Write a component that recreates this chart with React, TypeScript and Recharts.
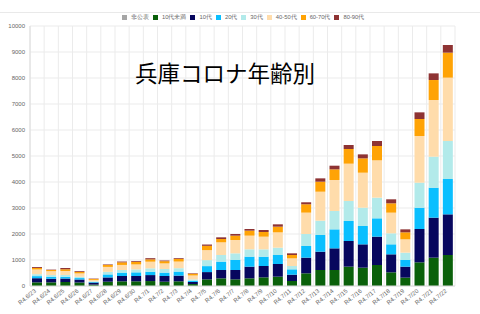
import React from "react";
import { BarChart, Bar, XAxis, YAxis, CartesianGrid } from "recharts";

// 発表日
const dates = [
  "R4.6/23", "R4.6/24", "R4.6/25", "R4.6/26", "R4.6/27", "R4.6/28", "R4.6/29", "R4.6/30",
  "R4.7/1", "R4.7/2", "R4.7/3", "R4.7/4", "R4.7/5", "R4.7/6", "R4.7/7", "R4.7/8",
  "R4.7/9", "R4.7/10", "R4.7/11", "R4.7/12", "R4.7/13", "R4.7/14", "R4.7/15", "R4.7/16",
  "R4.7/17", "R4.7/18", "R4.7/19", "R4.7/20", "R4.7/21", "R4.7/22",
];

// 年代別の新規陽性者数
const undisclosed = Array(30).fill(0);
const under10 = [140, 140, 155, 135, 55, 165, 180, 180, 190, 165, 180, 75, 255, 295, 256, 295, 333, 359, 192, 487, 615, 615, 744, 705, 808, 526, 321, 910, 1090, 1192];
const teens = [160, 140, 130, 115, 75, 165, 205, 205, 230, 220, 220, 80, 280, 321, 359, 449, 436, 487, 244, 603, 705, 833, 987, 897, 1090, 692, 423, 1282, 1538, 1564];
const twenties = [80, 75, 75, 55, 25, 115, 130, 140, 130, 130, 155, 50, 230, 321, 385, 385, 359, 346, 205, 449, 641, 731, 769, 705, 705, 385, 256, 820, 1154, 1359];
const thirties = [75, 65, 65, 50, 25, 100, 100, 115, 130, 140, 130, 50, 230, 256, 256, 282, 282, 282, 128, 462, 551, 705, 769, 705, 795, 423, 282, 962, 1192, 1462];
const fortyFifty = [180, 150, 150, 130, 55, 190, 195, 190, 255, 215, 255, 150, 385, 487, 513, 526, 487, 590, 295, 821, 1115, 1192, 1436, 1346, 1436, 795, 513, 1795, 2179, 2436];
const sixtySeventy = [60, 45, 70, 55, 35, 75, 100, 100, 90, 85, 100, 65, 165, 128, 167, 192, 179, 218, 128, 321, 385, 410, 564, 551, 551, 359, 269, 654, 769, 962];
const eightyNinety = [35, 15, 45, 30, 15, 20, 30, 30, 45, 25, 30, 20, 50, 64, 64, 64, 77, 90, 64, 77, 128, 141, 154, 154, 192, 154, 115, 256, 256, 295];

const yTicks = [0, 1000, 2000, 3000, 4000, 5000, 6000, 7000, 8000, 9000, 10000];

const series = [
  { key: "非公表", values: undisclosed, color: "#a6a6a6" },
  { key: "10代未満", values: under10, color: "#0a600a" },
  { key: "10代", values: teens, color: "#07075e" },
  { key: "20代", values: twenties, color: "#0abfff" },
  { key: "30代", values: thirties, color: "#b2eaea" },
  { key: "40-50代", values: fortyFifty, color: "#ffdcab" },
  { key: "60-70代", values: sixtySeventy, color: "#ffa305" },
  { key: "80-90代", values: eightyNinety, color: "#8e3333" },
];

const data = dates.map((date, i) => {
  const row: Record<string, string | number> = { date };
  series.forEach((s) => (row[s.key] = s.values[i]));
  return row;
});

const font = "'Liberation Sans', Arial, sans-serif";

const XTick = ({ x, y, payload }: any) => (
  <g transform={`translate(${x - 2},${y})`}>
    <text x={0} y={0} dy="0.35em" textAnchor="end" transform="rotate(-40)" fontSize={6} fill="#666" fontFamily={font}>
      {payload.value}
    </text>
  </g>
);

// grid lines sit on the band edges, not on the category centres
const bandEdges = ({ offset }: any) => {
  const n = dates.length;
  const out: number[] = [];
  for (let i = 0; i <= n; i++) out.push(offset.left + (i * offset.width) / n);
  return out;
};

export default function App() {
  return (
    <div style={{ position: "absolute", left: 0, top: 0, width: 480, height: 314, background: "#fff", overflow: "hidden" }}>
      <div style={{ position: "absolute", left: 0, top: 12, width: 480, height: 1, background: "#e9e9e9" }} />
      <div
        style={{
          position: "absolute",
          left: 122,
          top: 14,
          display: "flex",
          alignItems: "center",
          gap: 4,
          fontFamily: font,
          fontSize: 5.8,
          color: "#666",
          lineHeight: "7px",
        }}
      >
        {series.map((s) => (
          <div key={s.key} style={{ display: "flex", alignItems: "center", gap: 4 }}>
            <span style={{ display: "inline-block", width: 5, height: 5, background: s.color }} />
            <span>{s.key}</span>
          </div>
        ))}
      </div>
      <BarChart width={480} height={314} data={data} margin={{ top: 26, right: 25, bottom: 0, left: 0 }}>
        <CartesianGrid stroke="#ebebeb" verticalCoordinatesGenerator={bandEdges} />
        <XAxis
          dataKey="date"
          interval={0}
          height={28}
          tick={<XTick />}
          tickLine={false}
          tickSize={2}
          tickMargin={2}
          axisLine={{ stroke: "#dcdcdc" }}
        />
        <YAxis
          domain={[0, 10000]}
          ticks={yTicks}
          width={30}
          tickLine={false}
          tickSize={3}
          tickMargin={2}
          axisLine={{ stroke: "#dcdcdc" }}
          tick={{ fontSize: 6, fill: "#666", fontFamily: font }}
        />
        {series.map((s) => (
          <Bar key={s.key} dataKey={s.key} stackId="a" fill={s.color} barSize={10} isAnimationActive={false} />
        ))}
      </BarChart>
      <div
        style={{
          position: "absolute",
          left: 135,
          top: 61,
          fontFamily: "'Noto Sans CJK JP', sans-serif",
          fontSize: 22.5,
          lineHeight: "22.5px",
          color: "#000",
          whiteSpace: "nowrap",
        }}
      >
        兵庫コロナ年齢別
      </div>
    </div>
  );
}
